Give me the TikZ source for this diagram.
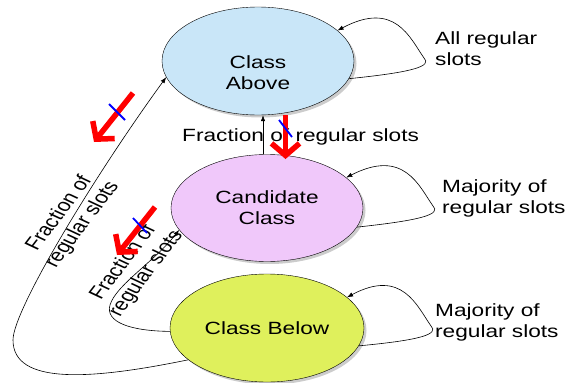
\documentclass[tikz,border=0pt]{standalone}
\usepackage{fontspec}
\setmainfont[FakeStretch=1.28]{Liberation Sans}
\newfontfamily\plainsans{Liberation Sans}
\usetikzlibrary{shapes.geometric,arrows.meta,shadows}

\definecolor{aboveblue}{RGB}{201,230,248}
\definecolor{candpink}{RGB}{240,200,250}
\definecolor{belowgreen}{RGB}{223,240,92}

\begin{document}
\begin{tikzpicture}[x=1pt, y=-1pt,
  cls/.style = {draw, ellipse, inner sep=0pt, minimum width=192pt, minimum height=108pt,
    align=center, font=\fontsize{17.7}{21}\selectfont,
    drop shadow={shadow xshift=2.5pt, shadow yshift=-2.5pt, opacity=0.4}},
  ctext/.style = {align=center, inner sep=0pt, font=\fontsize{17.7}{21}\selectfont},
  lbl/.style = {inner sep=0pt, align=left, font=\fontsize{17.7}{21}\selectfont},
  slant/.style = {inner sep=0pt, align=center, font=\plainsans\fontsize{17.7}{21}\selectfont,
    xscale=1.28, rotate=59},
  link/.style = {line width=0.6pt, -{Latex[length=6pt,width=4.5pt]}},
  veto/.style = {red, line width=5.5pt, -{Straight Barb[length=12pt,width=28pt]}},
  cut/.style = {blue, line width=1.8pt}]
\useasboundingbox (0,0) rectangle (566,383);

% the three classes
\node[cls, fill=aboveblue, label={[ctext, yshift=-12pt]center:{Class\\Above}}] (above) at (258,61) {};
\node[cls, fill=candpink, minimum height=107pt] (cand) at (267,208) {Candidate\\Class};
\node[cls, fill=belowgreen, minimum width=194pt] (below) at (267,328) {Class Below};

% staying in the same class
\draw[link] (above.-11) .. controls (415,72) and (432,66) .. (424,58)
  .. controls (410,38) and (395,0) .. (above.21);
\draw[link] (cand.-12) .. controls (424,220) and (441,214) .. (433,206)
  .. controls (419,186) and (404,148) .. (cand.21);
\draw[link] (below.-11) .. controls (422,340) and (439,334) .. (431,326)
  .. controls (417,306) and (402,268) .. (below.21);
\node[lbl, anchor=west] (allreg) at (435,48.5) {All regular\\slots};
\node[lbl, anchor=west] (majcand) at (442,198) {Majority of\\regular slots};
\node[lbl, anchor=west] (majbelow) at (435,322.5) {Majority of\\regular slots};

% moving up
\draw[link] ([xshift=-4pt]cand.north) -- ([xshift=5pt]above.south);
\node[lbl, anchor=base west] (fracup) at (182,141) {Fraction of regular slots};

\draw[link] (below.202) .. controls (90,380) and (13,385) .. (13,340)
  .. controls (13,310) and (95,175) .. (above.190);
\node[slant] (fracouter) at (71,219) {Fraction of\\regular slots};

\draw[link] (below.182) .. controls (130,331) and (105,322) .. (110,305)
  .. controls (116,285) and (154,262) .. (cand.194);
\node[slant] (fracinner) at (135,268) {Fraction of\\regular slots};

% crossed-out moves
\draw[veto] (133,93) -- (94,142);
\draw[cut] (109,104) -- (125,120);
\draw[veto] (155,207) -- (117,255);
\draw[cut] (133,218) -- (147,233);
\draw[veto] (285.5,115) -- (285.5,159);
\draw[cut] (279,120) -- (292,137);
\end{tikzpicture}
\end{document}
